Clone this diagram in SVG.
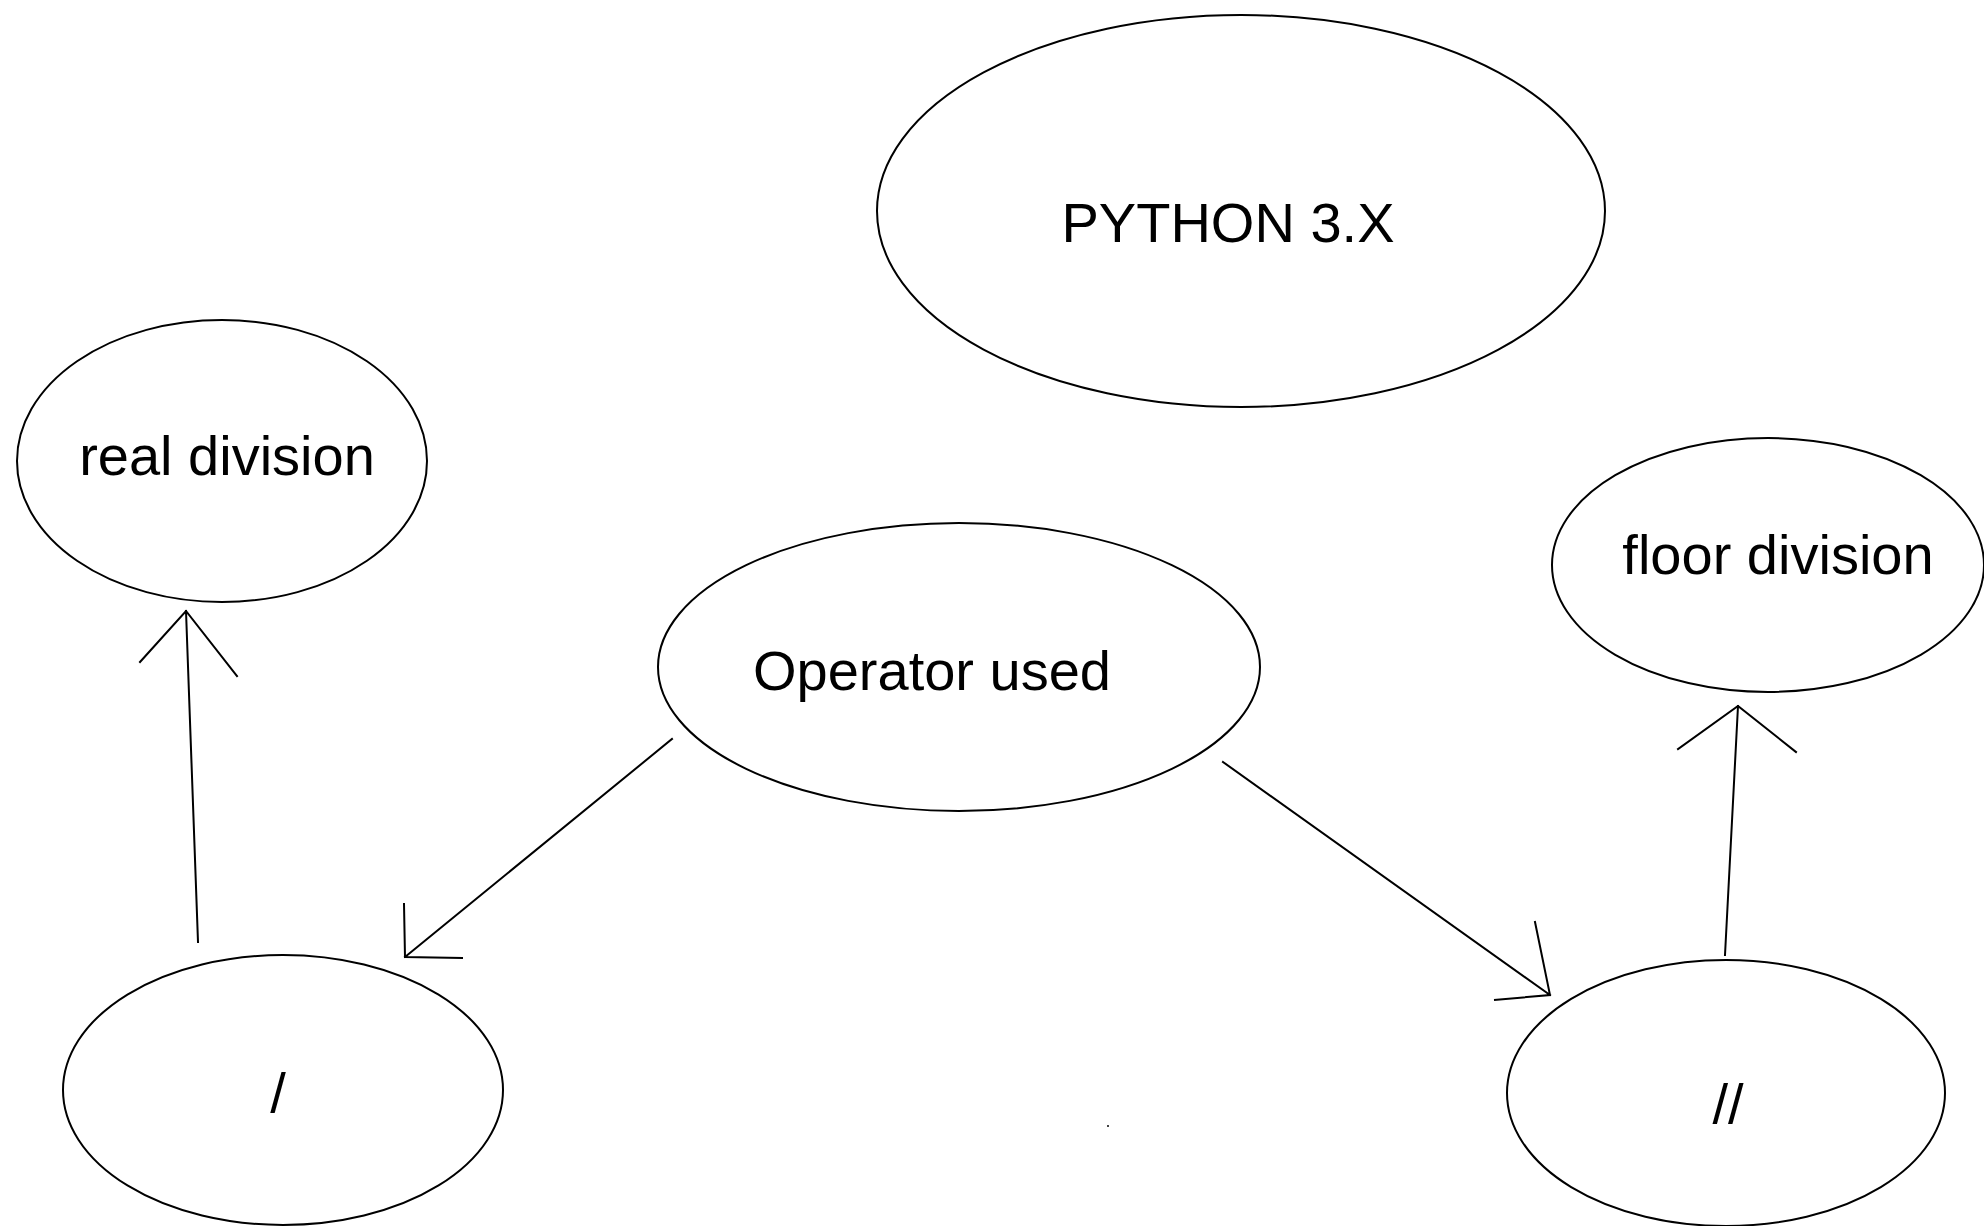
<svg xmlns="http://www.w3.org/2000/svg" width="1984" height="1226" viewBox="0 0 1984 1226">
<style>
.n{fill:#fff;stroke:#000;stroke-width:2}
.t{font-family:"Liberation Sans",Arial,sans-serif;font-size:56px;fill:#000;text-anchor:middle}
.c{stroke:#000;stroke-width:2;fill:none;stroke-linecap:square}
</style>
<rect width="1984" height="1226" fill="#fff"/>
<g id="python"><ellipse class="n" cx="1241" cy="211" rx="364" ry="196"/><text class="t" x="1228" y="242">PYTHON 3.X</text></g>
<g id="real"><ellipse class="n" cx="222" cy="461" rx="205" ry="141"/><text class="t" x="227" y="475">real division</text></g>
<g id="floor"><ellipse class="n" cx="1768" cy="565" rx="216" ry="127"/><text class="t" x="1778" y="574">floor division</text></g>
<g id="operator"><ellipse class="n" cx="959" cy="667" rx="301" ry="144"/><text class="t" x="932" y="690">Operator used</text></g>
<g id="slash"><ellipse class="n" cx="283" cy="1090" rx="220" ry="135"/><text class="t" x="278" y="1112">/</text></g>
<g id="dslash"><ellipse class="n" cx="1726" cy="1093" rx="219" ry="133"/><text class="t" x="1728" y="1123">//</text></g>
<g id="connectors">
<path class="c" d="M198 942 L186 611 M140 662 L186 611 L237 676"/>
<path class="c" d="M672 739 L405 957 M404 904 L405 957 L462 958"/>
<path class="c" d="M1725 955 L1738 706 M1678 749 L1738 706 L1796 752"/>
<path class="c" d="M1223 762 L1550 995 M1535 922 L1550 995 L1495 1000"/>
</g>
<rect x="1107" y="1125" width="2" height="2" fill="#444"/>
</svg>
